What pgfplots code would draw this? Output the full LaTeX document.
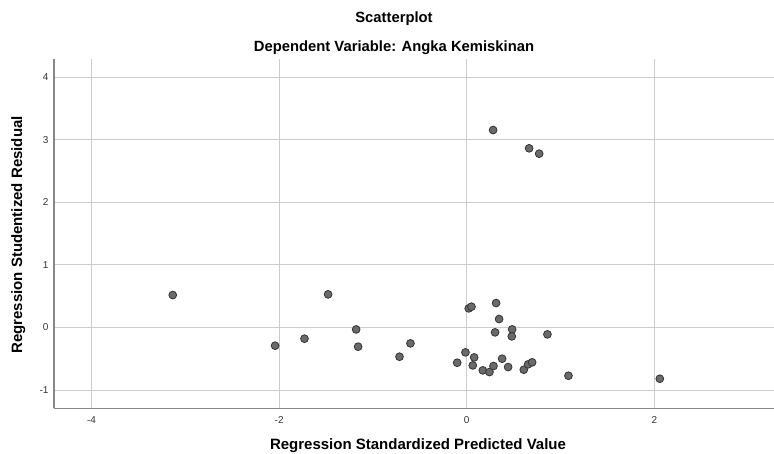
\documentclass[border=0pt]{standalone}
\usepackage{pgfplots}
\pgfplotsset{compat=1.18}
\usepackage{fontspec}
\setmainfont{Liberation Sans}
\definecolor{gridc}{HTML}{CCCCCC}
\definecolor{axc}{HTML}{888888}
\definecolor{tickc}{HTML}{333333}
\definecolor{ptfill}{HTML}{6A6A6A}
\definecolor{ptedge}{HTML}{333333}
\begin{document}
\begin{tikzpicture}[x=1pt,y=1pt]
\path[use as bounding box] (0,0) rectangle (774,454);
\node[font=\bfseries\fontsize{14.8}{16}\selectfont] at (394,435) {Scatterplot};
\node[font=\bfseries\fontsize{14.8}{16}\selectfont] at (394,406.5) {Dependent Variable: Angka Kemiskinan};
\begin{axis}[
  at={(54pt,45.7pt)}, anchor=south west,
  scale only axis, width=719.5pt, height=349pt,
  xmin=-4.40, xmax=3.27, ymin=-1.29, ymax=4.285,
  xtick={-4,-2,0,2}, ytick={-1,0,1,2,3,4},
  grid=major,
  major grid style={gridc, line width=1.1pt},
  axis x line*=bottom, axis y line*=left,
  axis line style={axc, line width=1.1pt, -},
  major tick length=0pt,
  tick label style={font=\fontsize{10}{11}\selectfont, text=tickc},
  /pgf/number format/assume math mode=true,
  xticklabel style={yshift=-5pt},
  yticklabel style={xshift=-2pt},
  xlabel={Regression Standardized Predicted Value},
  ylabel={Regression Studentized Residual},
  label style={font=\bfseries\fontsize{15}{16}\selectfont},
  xlabel style={at={(axis description cs:0.5059,-0.108)}, anchor=center},
  ylabel style={at={(axis description cs:-0.0496,0.4966)}, anchor=center},
  clip=false,
]
\addplot[only marks, mark=*, mark size=3.9pt, mark options={fill=ptfill, draw=ptedge, line width=0.8pt}] coordinates {
(-3.134,0.519) (-1.478,0.530) (-2.043,-0.290) (-1.730,-0.178) (-1.179,-0.030) (-1.158,-0.306)
(-0.717,-0.466) (-0.600,-0.253) (-0.102,-0.562) (-0.014,-0.397) (0.021,0.306) (0.050,0.333)
(0.079,-0.477) (0.064,-0.605) (0.171,-0.684) (0.242,-0.711) (0.285,-0.615) (0.313,0.391)
(0.345,0.136) (0.302,-0.077) (0.377,-0.498) (0.441,-0.631) (0.484,-0.029) (0.480,-0.141)
(0.608,-0.674) (0.654,-0.588) (0.697,-0.556) (0.860,-0.109) (1.084,-0.770) (2.058,-0.818)
(0.281,3.155) (0.665,2.863) (0.772,2.777)
};
\end{axis}
\end{tikzpicture}
\end{document}
